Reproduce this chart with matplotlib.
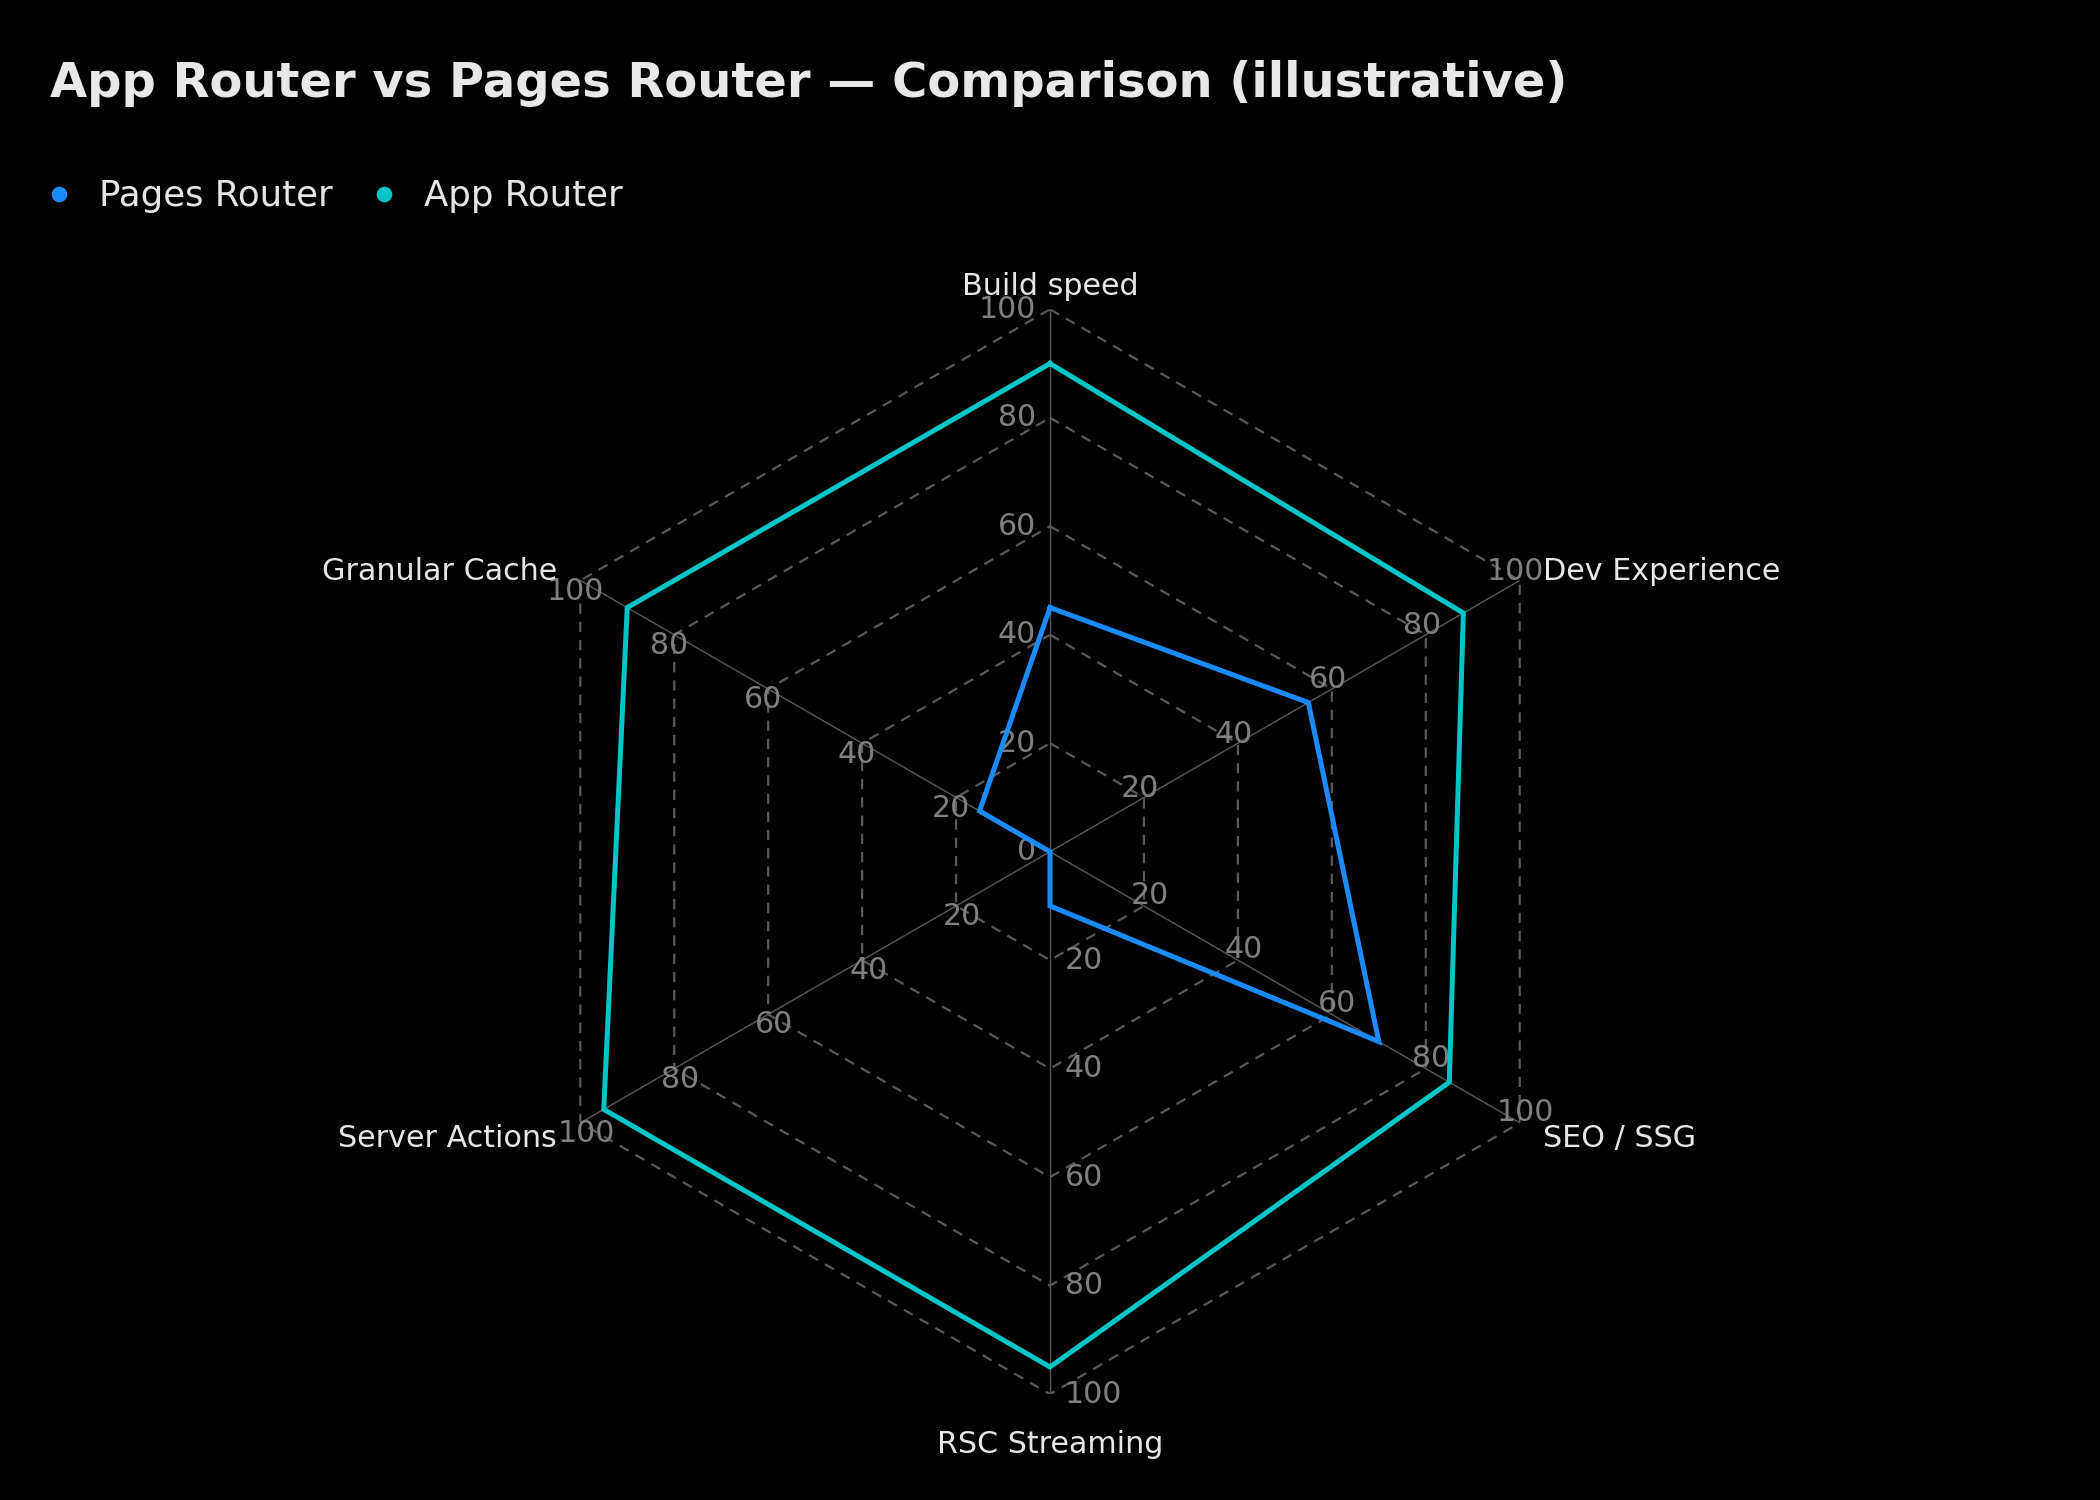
import numpy as np
import matplotlib
matplotlib.use("Agg")
import matplotlib.pyplot as plt
from matplotlib.lines import Line2D

categories = ["Build speed", "Dev Experience", "SEO / SSG", "RSC Streaming", "Server Actions", "Granular Cache"]
pages_router = [45, 55, 70, 10, 0, 15]
app_router = [90, 88, 85, 95, 95, 90]
ring_ticks = [0, 20, 40, 60, 80, 100]
series_names = ["Pages Router", "App Router"]
series_colors = ["#1a8cff", "#00c5c8"]

W, H = 2100, 1500
DPI = 200
fig = plt.figure(figsize=(W / DPI, H / DPI), dpi=DPI, facecolor="black")

cx, cy, R = 1050, 851.7, 542.4
ax = fig.add_axes([(cx - R) / W, (H - cy - R) / H, 2 * R / W, 2 * R / H], projection="polar")
ax.set_facecolor("black")
ax.set_theta_offset(np.pi / 2)
ax.set_theta_direction(-1)
ax.set_ylim(0, 100)
ax.grid(False)
ax.spines["polar"].set_visible(False)
ax.set_xticks([])
ax.set_yticks([])

n = len(categories)
angles = np.arange(n) * 2 * np.pi / n
closed = np.concatenate([angles, angles[:1]])

grid_col = "#5a5a5a"
# rings (dashed hexagons)
for t in ring_ticks[1:]:
    ax.plot(closed, [t] * (n + 1), color=grid_col, lw=0.8, linestyle=(0, (4.6, 3.6)), zorder=1)
# spokes
for a in angles:
    ax.plot([a, a], [0, 100], color=grid_col, lw=0.5, zorder=1)

# tick labels per axis: (offset in points, ha)
tick_style = [
    ((-5, 0), "right"),
    ((-1.5, 3.3), "center"),
    ((2, 3.8), "center"),
    ((5.4, 0), "left"),
    ((2.2, -3.8), "center"),
    ((-1.9, -3.9), "center"),
]
for i, (a, (off, ha)) in enumerate(zip(angles, tick_style)):
    for t in ring_ticks:
        if t == 0 and i != 0:
            continue
        ax.annotate(str(t), xy=(a, t), xytext=off, textcoords="offset points",
                    ha=ha, va="center", color="#808080", fontsize=10.8, zorder=2,
                    annotation_clip=False)

# series
for vals, col in zip([pages_router, app_router], series_colors):
    v = list(vals) + [vals[0]]
    ax.plot(closed, v, color=col, lw=1.8, zorder=3, solid_joinstyle="miter")

# category labels: (r, ha, va, y-offset pts)
label_style = [
    (102.6, "center", "baseline", 0),
    (105, "left", "center", -1.7),
    (105, "left", "center", -0.9),
    (106.6, "center", "top", 0),
    (105, "right", "center", -0.9),
    (105, "right", "center", -1.7),
]
for a, lab, (r, ha, va, dy) in zip(angles, categories, label_style):
    ax.annotate(lab, xy=(a, r), xytext=(0, dy), textcoords="offset points",
                ha=ha, va=va, color="#e6e6e6", fontsize=10.85, annotation_clip=False)

fig.text(50 / W, 1 - 97 / H, "App Router vs Pages Router \u2014 Comparison (illustrative)",
         ha="left", va="baseline", color="#e8e8e8", fontsize=17.3, fontweight="bold")

handles = [Line2D([], [], marker="o", linestyle="none", markersize=4.6,
                  markerfacecolor=c, markeredgecolor=c) for c in series_colors]
leg = fig.legend(handles, series_names, loc="center left", bbox_to_anchor=(0.0195, 1 - 196 / H),
                 ncol=2, frameon=False, fontsize=12.8, handlelength=1.0, handletextpad=0.62,
                 columnspacing=0.95, borderaxespad=0, borderpad=0)
for txt in leg.get_texts():
    txt.set_color("#e6e6e6")

fig.savefig("out.png", dpi=DPI, facecolor="black")
